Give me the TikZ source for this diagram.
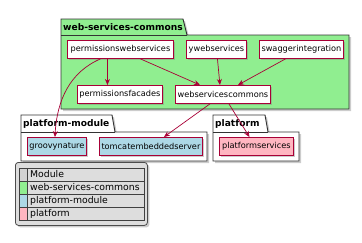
\documentclass[tikz,border=0pt]{standalone}
\usepackage{fontspec}
\setmainfont{DejaVu Sans}
\usetikzlibrary{shadows,arrows.meta}

\definecolor{umlred}{HTML}{A80036}
\definecolor{pkggreen}{HTML}{90EE90}
\definecolor{pkgblue}{HTML}{ADD8E6}
\definecolor{pkgpink}{HTML}{FFB6C1}
\definecolor{legendgray}{HTML}{DDDDDD}

\tikzset{
    module/.style={draw=umlred, line width=0.9pt, rectangle, minimum height=18pt, inner sep=1pt,
        font=\fontsize{8.2}{9}\selectfont, anchor=north west,
        drop shadow={shadow xshift=2pt, shadow yshift=-2pt, opacity=0.4}},
    pkg/.style={draw=black!80, line width=0.9pt, fill=white,
        drop shadow={shadow xshift=2pt, shadow yshift=-2pt, opacity=0.4}},
    pkgtitle/.style={font=\fontsize{9.1}{10}\selectfont\bfseries, anchor=west, inner sep=0pt},
    dep/.style={draw=umlred, line width=0.7pt, -{Stealth[length=6pt, width=5pt]}},
    legendtext/.style={font=\fontsize{9.3}{10}\selectfont, anchor=west, inner sep=0pt},
}

\begin{document}
\begin{tikzpicture}[x=1pt, y=-1pt]
    \useasboundingbox (0,0) rectangle (362,242);

    %% packages
    \draw[pkg, fill=pkggreen] (61,19) -- (183,19) -- (187,35) -- (349,35) -- (349,109) -- (61,109) -- cycle;
    \draw[draw=black!80, line width=0.9pt] (61,35) -- (187,35);
    \node[pkgtitle] (t0) at (63,27.5) {web-services-commons};

    \draw[pkg] (21,115) -- (112,115) -- (115,132) -- (207,132) -- (207,161) -- (21,161) -- cycle;
    \draw[draw=black!80, line width=0.9pt] (21,132) -- (115,132);
    \node[pkgtitle] (t1) at (23,123.5) {platform-module};

    \draw[pkg] (213,115) -- (265,115) -- (268,132) -- (299,132) -- (299,161) -- (213,161) -- cycle;
    \draw[draw=black!80, line width=0.9pt] (213,132) -- (268,132);
    \node[pkgtitle] (t2) at (215,123.5) {platform};

    %% modules
    \node[module, fill=white, minimum width=106pt] (pws) at (67,40) {permissionswebservices};
    \node[module, fill=white, minimum width=60pt] (yws) at (186,40) {ywebservices};
    \node[module, fill=white, minimum width=84pt] (swg) at (259,40) {swaggerintegration};
    \node[module, fill=white, minimum width=85pt] (pfc) at (77,85) {permissionsfacades};
    \node[module, fill=white, minimum width=95pt] (wsc) at (175,85) {webservicescommons};
    \node[module, fill=pkgblue, minimum width=59pt] (grv) at (27,137) {groovynature};
    \node[module, fill=pkgblue, minimum width=103pt] (tom) at (99,137) {tomcatembeddedserver};
    \node[module, fill=pkgpink, minimum width=74pt] (pls) at (219,137) {platformservices};

    %% dependencies
    \draw[dep] ([xshift=-13pt]pws.south) -- ([xshift=-13pt]pws.south |- pfc.north);
    \draw[dep] ([xshift=20pt]pws.south) -- ([xshift=-23pt]wsc.north);
    \draw[dep] ([xshift=1pt]yws.south) -- ([xshift=-3pt]wsc.north);
    \draw[dep] ([xshift=-16pt]swg.south) -- ([xshift=15pt]wsc.north);
    \draw[dep] ([xshift=-20pt]pws.south) .. controls (70,72) and (57,100) .. ([xshift=-2pt]grv.north);
    \draw[dep] ([xshift=-13pt]wsc.south) -- ([xshift=13pt]tom.north);
    \draw[dep] ([xshift=6pt]wsc.south) -- ([xshift=-7pt]pls.north);

    %% legend
    \node[draw=black!70, line width=0.8pt, fill=legendgray, rounded corners=3pt, minimum width=132pt, minimum height=63pt, anchor=north west,
        drop shadow={shadow xshift=2pt, shadow yshift=-2pt, opacity=0.4}] (leg) at (15,162) {};
    \fill[legendgray!95!black] (19,168) rectangle (27,181);
    \fill[pkggreen] (19,181) rectangle (27,194);
    \fill[pkgblue] (19,194) rectangle (27,207);
    \fill[pkgpink] (19,207) rectangle (27,220);
    \draw[black!75, line width=0.8pt] (19,168) rectangle (144,220)
        (27,168) -- (27,220) (19,181) -- (144,181) (19,194) -- (144,194) (19,207) -- (144,207);
    \node[legendtext] (l0) at (30,174.5) {Module};
    \node[legendtext] (l1) at (30,187.5) {web-services-commons};
    \node[legendtext] (l2) at (30,200.5) {platform-module};
    \node[legendtext] (l3) at (30,213.5) {platform};
\end{tikzpicture}
\end{document}
